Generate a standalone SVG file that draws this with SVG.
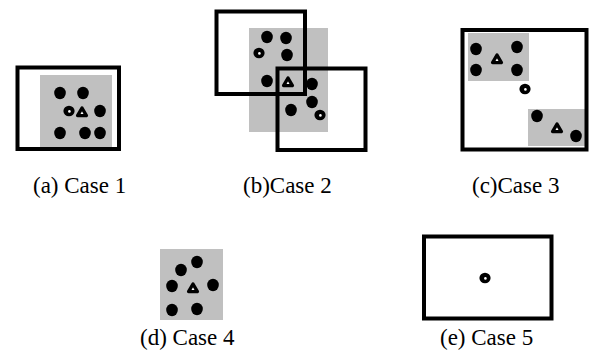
<svg xmlns="http://www.w3.org/2000/svg" xmlns:xlink="http://www.w3.org/1999/xlink" width="590" height="351" viewBox="0 0 590 351">
  <style>
    .zone { fill: #c0c0c0; }
    .frame { fill: none; stroke: #000; stroke-width: 4; }
    .dot { fill: #000; }
    .cap { font-family: "Liberation Serif", "Times New Roman", serif; font-size: 23px; fill: #000; }
  </style>
  <defs>
    <!-- filled point -->
    <ellipse id="pt" cx="0" cy="0" rx="5.8" ry="6.2" class="dot"/>
    <!-- hollow point -->
    <g id="ring">
      <ellipse cx="0" cy="0" rx="5.6" ry="5.2" fill="#000"/>
      <circle cx="0.4" cy="0.4" r="1.3" fill="#fff"/>
    </g>
    <!-- triangle marker -->
    <polygon id="tri" points="0,-4 4.4,3.6 -4.4,3.6" fill="#fff" stroke="#000" stroke-width="3.4" stroke-linejoin="round"/>
  </defs>

  <rect width="590" height="351" fill="#fff"/>

  <!-- Case 1 -->
  <g id="case1">
    <rect class="zone" x="40" y="75" width="72" height="73"/>
    <rect class="frame" x="17.5" y="67.5" width="101.5" height="81.5"/>
    <use xlink:href="#pt" x="60" y="93"/>
    <use xlink:href="#pt" x="83" y="93"/>
    <use xlink:href="#ring" x="69" y="111"/>
    <use xlink:href="#tri" x="82" y="112"/>
    <use xlink:href="#pt" x="100" y="111"/>
    <use xlink:href="#pt" x="60" y="133"/>
    <use xlink:href="#pt" x="85" y="133"/>
    <use xlink:href="#pt" x="100" y="133"/>
  </g>

  <!-- Case 2 -->
  <g id="case2">
    <rect class="zone" x="249" y="28" width="79" height="104"/>
    <rect class="frame" x="216.5" y="11.5" width="88.5" height="82.5"/>
    <rect class="frame" x="277.5" y="68.5" width="88" height="81.5"/>
    <use xlink:href="#pt" x="267" y="37"/>
    <use xlink:href="#pt" x="286" y="38"/>
    <use xlink:href="#ring" x="259" y="53"/>
    <use xlink:href="#pt" x="287" y="55"/>
    <use xlink:href="#pt" x="267" y="81"/>
    <use xlink:href="#tri" x="288" y="82"/>
    <use xlink:href="#pt" x="312" y="84"/>
    <use xlink:href="#pt" x="312" y="102"/>
    <use xlink:href="#pt" x="291" y="110"/>
    <use xlink:href="#ring" x="320" y="115"/>
  </g>

  <!-- Case 3 -->
  <g id="case3">
    <rect class="zone" x="468" y="33" width="61" height="48"/>
    <rect class="zone" x="528" y="109" width="57" height="37"/>
    <rect class="frame" x="462.5" y="30" width="124" height="119.5"/>
    <use xlink:href="#pt" x="476" y="49"/>
    <use xlink:href="#pt" x="517" y="47"/>
    <use xlink:href="#pt" x="476" y="70"/>
    <use xlink:href="#pt" x="517" y="70"/>
    <use xlink:href="#tri" x="497" y="59"/>
    <use xlink:href="#ring" x="525" y="89"/>
    <use xlink:href="#pt" x="537" y="116"/>
    <use xlink:href="#tri" x="557" y="128"/>
    <use xlink:href="#pt" x="576" y="136"/>
  </g>

  <!-- Case 4 -->
  <g id="case4">
    <rect class="zone" x="160" y="249" width="63" height="71"/>
    <use xlink:href="#pt" x="197" y="262"/>
    <use xlink:href="#pt" x="181" y="270"/>
    <use xlink:href="#pt" x="172" y="286"/>
    <use xlink:href="#tri" x="193" y="288"/>
    <use xlink:href="#pt" x="213" y="285"/>
    <use xlink:href="#pt" x="172" y="310"/>
    <use xlink:href="#pt" x="197" y="309"/>
  </g>

  <!-- Case 5 -->
  <g id="case5">
    <rect class="frame" x="424" y="236.5" width="127.5" height="82"/>
    <use xlink:href="#ring" x="485" y="278"/>
  </g>

  <!-- captions -->
  <g id="captions">
    <text class="cap" x="33" y="193">(a) Case 1</text>
    <text class="cap" x="243" y="193">(b)Case 2</text>
    <text class="cap" x="472" y="193">(c)Case 3</text>
    <text class="cap" x="140" y="345">(d) Case 4</text>
    <text class="cap" x="440" y="345">(e) Case 5</text>
  </g>
</svg>
